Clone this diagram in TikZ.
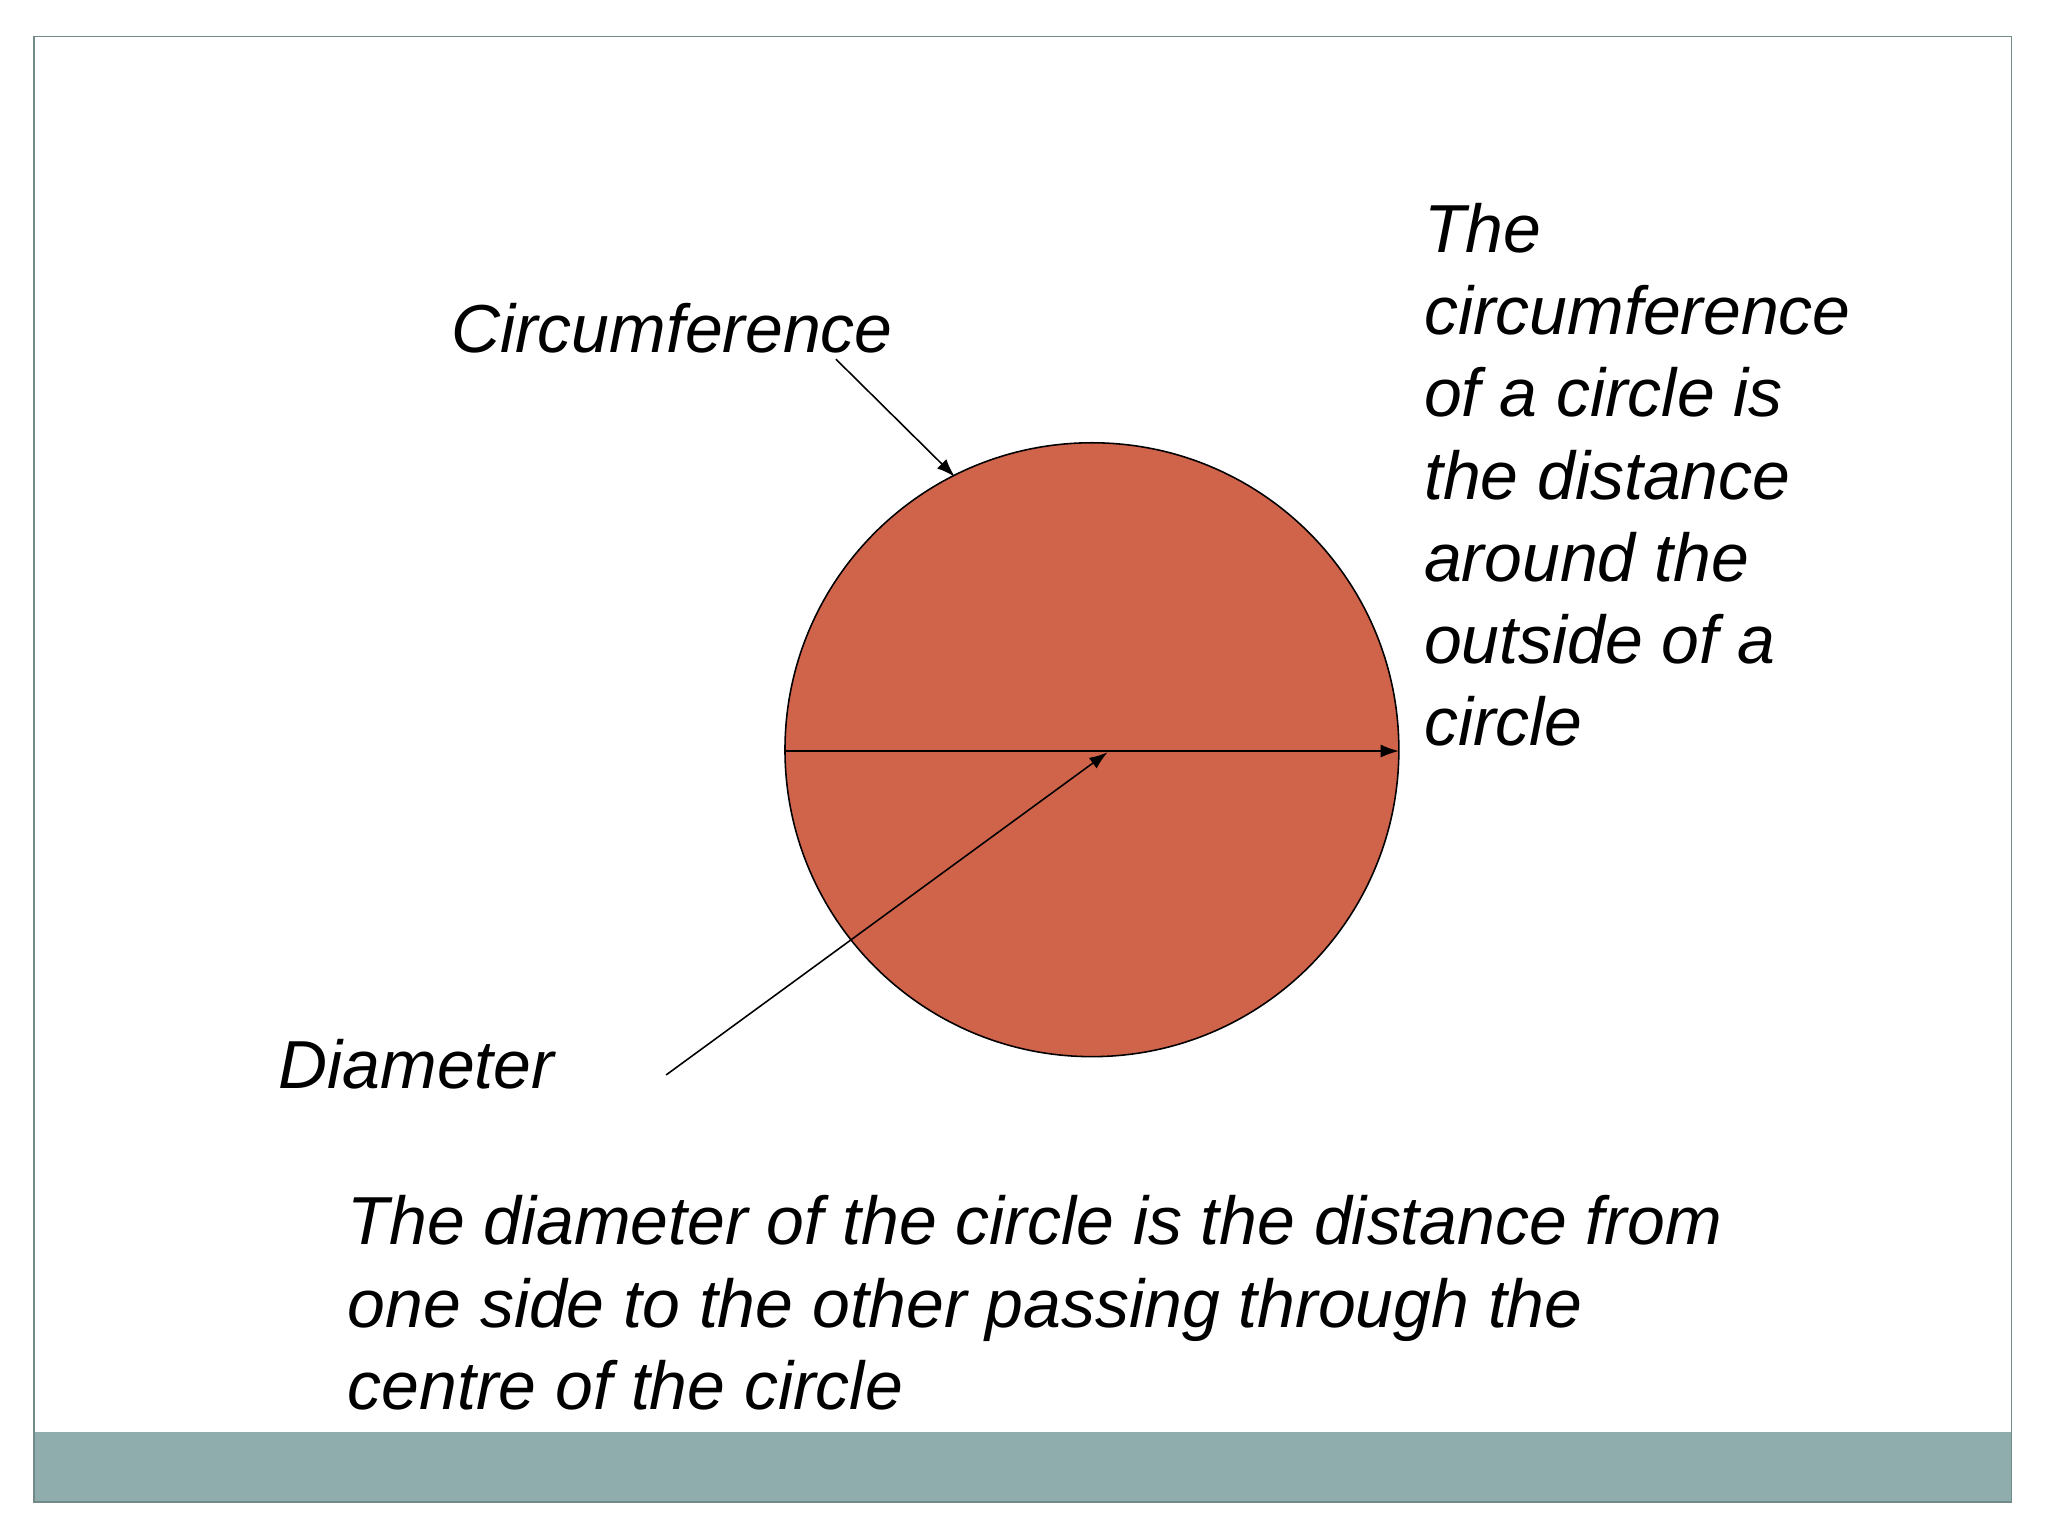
\documentclass[tikz,border=0pt]{standalone}
\usepackage{fontspec}
\setmainfont{Liberation Sans}
\usetikzlibrary{arrows.meta}
\definecolor{disc}{RGB}{208,100,75}
\definecolor{bar}{RGB}{143,173,172}
\tikzset{lbl/.style={anchor=north west,inner sep=0pt,align=left,font=\fontsize{26}{31.5}\selectfont\itshape},
ptr/.style={-{Latex[length=7pt,width=5pt]},line width=0.6pt}}
\begin{document}
\begin{tikzpicture}[x=0.5pt,y=-0.5pt]
\useasboundingbox (0,0) rectangle (1568,1176);
\fill[white] (0,0) rectangle (1568,1176);
\fill[bar] (26,1096) rectangle (1540,1150);
\draw[bar!80!black,line width=0.6pt] (26,28) rectangle (1540,1150);
\node[circle,draw=black,line width=0.6pt,fill=disc,minimum size=235pt,inner sep=0pt] (c) at (836,574) {};
\coordinate (dl) at (601,575);
\coordinate (dr) at (1071,575);
\coordinate (ctr) at (848,576);
\coordinate (ct) at (731,365);
\draw[ptr] (dl) -- (dr);
\node[lbl] (circ) at (345,232) {Circumference};
\node[lbl] (diam) at (213,795) {Diameter};
\coordinate (cs) at (640,275);
\coordinate (ds) at (510,823);
\draw[ptr] (cs) -- (ct);
\draw[ptr] (ds) -- (ctr);
\node[lbl] (rt) at (1090,155) {The\\circumference\\of a circle is\\the distance\\around the\\outside of a\\circle};
\node[lbl] (bt) at (266,915) {The diameter of the circle is the distance from\\one side to the other passing through the\\centre of the circle};
\end{tikzpicture}
\end{document}
